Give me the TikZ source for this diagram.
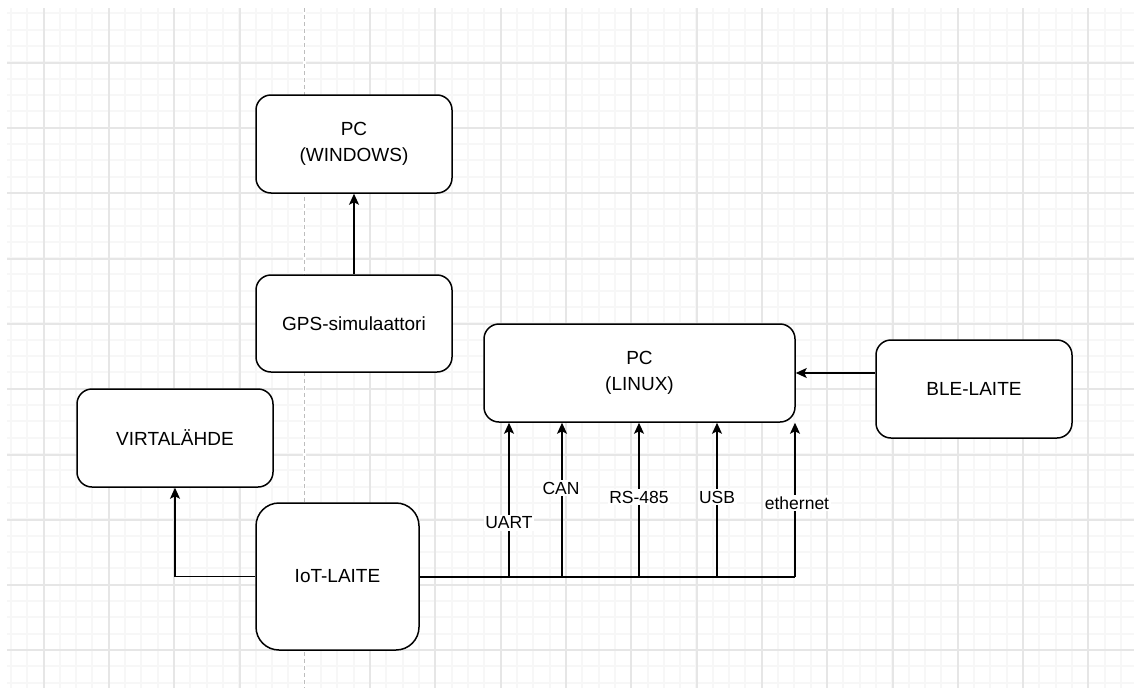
\documentclass[tikz,border=0pt]{standalone}
\usepackage{fontspec}
\setmainfont{Liberation Sans}
\usetikzlibrary{arrows.meta}
\definecolor{minorgrid}{HTML}{F7F7F7}
\definecolor{majorgrid}{HTML}{E6E6E6}
\definecolor{pagebreak}{HTML}{BDBDBD}
\tikzset{
  box/.style={draw, line width=1.5pt, rounded corners=15pt, fill=white, align=center,
    font=\fontsize{19}{26}\selectfont, inner sep=0pt, minimum width=196pt, minimum height=98pt},
  conn/.style={line width=1.6pt, draw=black},
  arr/.style={conn, -{Stealth[length=11pt, width=10pt, inset=2.5pt]}},
  lbl/.style={fill=white, inner sep=1.5pt, font=\fontsize{17.5}{21}\selectfont},
}
\begin{document}
\begin{tikzpicture}[x=1pt, y=-1pt]
\useasboundingbox (0,0) rectangle (1134,688);
\fill[white] (0,0) rectangle (1134,688);
% grid
\foreach \i in {0,...,69} {
  \pgfmathsetmacro\gx{round(10.85+\i*16.325)}
  \draw[minorgrid, line width=2pt] (\gx,8) -- (\gx,688);
}
\foreach \i in {0,...,41} {
  \pgfmathsetmacro\gy{round(13.3+\i*16.325)}
  \draw[minorgrid, line width=2pt] (7,\gy) -- (1134,\gy);
}
\foreach \i in {0,...,16} {
  \pgfmathsetmacro\gx{round(43.6+\i*65.3)}
  \draw[majorgrid, line width=2pt] (\gx,8) -- (\gx,688);
}
\foreach \i in {0,...,9} {
  \pgfmathsetmacro\gy{round(62.7+\i*65.3)}
  \draw[majorgrid, line width=2pt] (7,\gy) -- (1134,\gy);
}
\fill[white] (303,8) rectangle (306,688);
\draw[pagebreak, line width=1pt, dash pattern=on 4pt off 3pt] (304.7,8) -- (304.7,688);

% nodes
\node[box] (win) at (354,144) {PC\\(WINDOWS)};
\node[box, minimum height=97pt] (gps) at (354,323.5) {GPS-simulaattori};
\node[box] (virt) at (175,438) {VIRTALÄHDE};
\node[box, minimum width=163pt, minimum height=147pt, rounded corners=23pt] (iot) at (337.5,576.5) {IoT-LAITE};
\node[box, minimum width=311pt] (linux) at (639.5,373) {PC\\(LINUX)};
\node[box] (ble) at (974,389) {BLE-LAITE};

% connectors
\draw[arr] (gps) -- (win);
\draw[arr] (iot.west) -| (virt.south);
\draw[arr] (ble.west |- linux.east) -- (linux.east);

\coordinate (b1) at (509,577);
\coordinate (b2) at (562,577);
\coordinate (b3) at (639,577);
\coordinate (b4) at (717,577);
\coordinate (b5) at (795,577);
\draw[conn] (iot.east |- b1) -- (b5);
\foreach \b in {b1,b2,b3,b4,b5} {
  \draw[arr] (\b) -- (\b |- linux.south);
}
\node[lbl] (luart) at (509,523) {UART};
\node[lbl] (lcan) at (561,488) {CAN};
\node[lbl] (lrs) at (639,497) {RS-485};
\node[lbl] (lusb) at (717,497) {USB};
\node[lbl] (leth) at (797,503) {ethernet};
\end{tikzpicture}
\end{document}
